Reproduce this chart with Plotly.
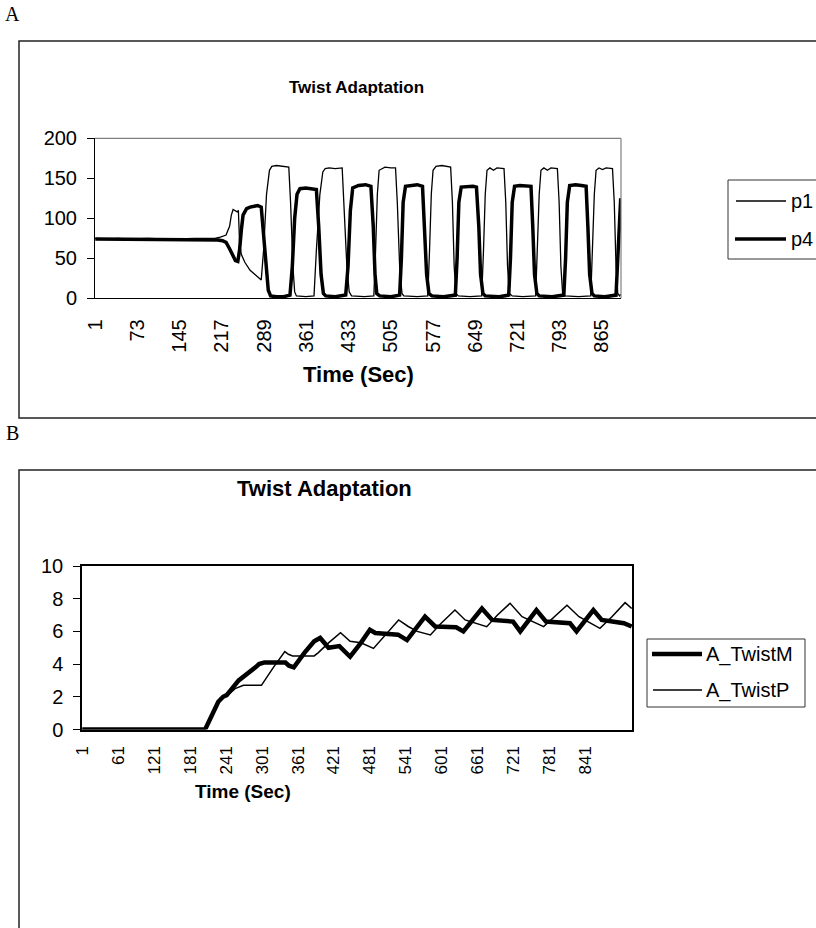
import plotly.graph_objects as go

# ---------------- Panel A data (vertices) ----------------
a_time_p1 = [1, 20, 40, 60, 90, 130, 170, 205, 212, 224, 230, 233, 236, 243, 245, 247, 250, 256, 265, 275, 284,
             288, 293, 298, 302, 310, 320, 331, 334, 338, 341, 344, 360, 374, 378, 384, 389, 393, 400, 410, 422,
             425, 430, 434, 438, 460, 476, 479, 482, 485, 490, 495, 505, 513, 516, 520, 524, 527, 550, 568,
             571, 574, 577, 582, 592, 600, 607, 610, 613, 616, 620, 640, 660, 663, 666, 669, 674, 680, 686, 698,
             701, 704, 707, 712, 730, 752, 755, 758, 761, 766, 772, 778, 789, 792, 795, 798, 802, 825, 846,
             849, 852, 855, 860, 866, 872, 883, 886, 889, 892, 895, 897]
a_p1 = [75, 74, 75, 74, 75, 74, 75, 75, 76, 79, 90, 104, 111, 108, 110, 70, 55, 45, 35, 28, 23,
        60, 130, 160, 165, 166, 165, 164, 120, 40, 8, 3, 2, 3, 60, 130, 158, 162, 163, 162, 163,
        120, 40, 8, 3, 2, 3, 60, 130, 160, 162, 164, 163, 163, 120, 40, 6, 3, 2, 3,
        60, 130, 160, 165, 166, 165, 164, 120, 40, 6, 3, 2, 3, 60, 130, 160, 163, 160, 163, 162,
        120, 40, 6, 3, 2, 3, 60, 130, 160, 163, 160, 163, 162, 120, 40, 6, 3, 2, 3,
        60, 130, 160, 163, 161, 163, 162, 120, 40, 6, 3, 5]

a_time_p4 = [1, 15, 30, 45, 60, 75, 100, 115, 140, 160, 180, 200, 210, 218, 224, 230, 236, 240, 244, 247, 250,
             253, 259, 265, 272, 278, 284, 287, 292, 296, 300, 310, 322, 333, 337, 341, 345, 350, 360, 370, 378,
             382, 386, 390, 394, 410, 428, 432, 436, 440, 450, 462, 471, 475, 478, 481, 486, 505, 520,
             523, 526, 530, 540, 550, 559, 562, 566, 570, 575, 595, 615, 618, 621, 625, 635, 645, 651,
             655, 658, 662, 666, 690, 706, 709, 712, 716, 725, 735, 744, 747, 750, 754, 758, 780, 800,
             803, 806, 810, 820, 830, 838, 841, 844, 848, 852, 870, 889, 892, 895, 897]
a_p4 = [74, 74, 73, 74, 73, 74, 74, 73, 74, 73, 74, 74, 73, 72, 70, 62, 54, 47, 46, 60, 85,
        104, 112, 114, 115, 116, 114, 90, 40, 10, 3, 2, 2, 4, 40, 100, 130, 137, 138, 137, 136,
        90, 30, 6, 3, 2, 4, 40, 110, 138, 141, 142, 140, 90, 30, 6, 3, 2, 4,
        50, 120, 140, 141, 142, 140, 90, 30, 6, 3, 2, 4, 50, 120, 139, 140, 140, 139,
        90, 30, 6, 3, 2, 4, 50, 120, 140, 141, 141, 140, 90, 30, 6, 3, 2, 4,
        50, 120, 141, 142, 141, 140, 90, 30, 6, 3, 2, 4, 50, 100, 125]

a_ticks = [1, 73, 145, 217, 289, 361, 433, 505, 577, 649, 721, 793, 865]
a_yticks = [0, 50, 100, 150, 200]

# ---------------- Panel B data ----------------
b_time_m = [1, 206, 228, 236, 242, 262, 290, 296, 305, 340, 346, 354, 372, 388, 398, 405, 412, 430, 448,
            466, 481, 490, 528, 543, 558, 573, 590, 625, 637, 652, 668, 685, 720, 732, 746, 759, 775,
            815, 826, 840, 854, 868, 905, 918]
b_m = [0, 0, 1.7, 2.0, 2.1, 3.0, 3.8, 4.0, 4.1, 4.1, 3.9, 3.8, 4.7, 5.4, 5.6, 5.3, 5.0, 5.1, 4.45,
       5.3, 6.1, 5.9, 5.8, 5.47, 6.2, 6.9, 6.3, 6.25, 6.0, 6.7, 7.4, 6.7, 6.6, 6.0, 6.7, 7.3, 6.6,
       6.5, 6.0, 6.7, 7.3, 6.7, 6.5, 6.3]

b_time_p = [1, 206, 228, 236, 244, 256, 270, 300, 320, 339, 345, 352, 388, 395, 412, 432, 448, 466, 487,
            508, 529, 545, 560, 582, 600, 623, 640, 676, 694, 715, 735, 771, 790, 810, 830, 865, 885,
            907, 918]
b_p = [0, 0, 1.7, 2.0, 2.1, 2.5, 2.7, 2.7, 3.8, 4.76, 4.6, 4.5, 4.5, 4.7, 5.3, 5.92, 5.4, 5.3, 4.96,
       5.8, 6.7, 6.3, 6.0, 5.78, 6.5, 7.31, 6.7, 6.29, 7.0, 7.72, 6.9, 6.29, 6.9, 7.6, 6.9, 6.19, 6.9,
       7.76, 7.4]

b_ticks = [1, 61, 121, 181, 241, 301, 361, 421, 481, 541, 601, 661, 721, 781, 841]
b_yticks = [0, 2, 4, 6, 8, 10]

# ---------------- figure ----------------
W, H = 816, 928
FONT = "Liberation Sans, Arial, sans-serif"


def px(x):
    return x / W


def py(y):
    return 1 - y / H


fig = go.Figure()
fig.add_trace(go.Scatter(x=a_time_p1, y=a_p1, mode="lines", name="p1",
                         line=dict(color="black", width=1.3), xaxis="x", yaxis="y"))
fig.add_trace(go.Scatter(x=a_time_p4, y=a_p4, mode="lines", name="p4",
                         line=dict(color="black", width=3.5), xaxis="x", yaxis="y"))
fig.add_trace(go.Scatter(x=b_time_m, y=b_m, mode="lines", name="A_TwistM",
                         line=dict(color="black", width=4.5), xaxis="x2", yaxis="y2"))
fig.add_trace(go.Scatter(x=b_time_p, y=b_p, mode="lines", name="A_TwistP",
                         line=dict(color="black", width=1.5), xaxis="x2", yaxis="y2"))

tickfont = dict(family=FONT, size=20, color="black")
tickfont_b = dict(family=FONT, size=17, color="black")

fig.update_layout(
    template="none",
    width=W, height=H, margin=dict(l=0, r=0, t=0, b=0, pad=0, autoexpand=False),
    paper_bgcolor="white", plot_bgcolor="white", showlegend=False,
    xaxis=dict(domain=[px(95), px(621)], anchor="y", range=[0.5, 897.5], automargin=False,
               tickmode="array", tickvals=a_ticks, ticktext=[str(t) for t in a_ticks],
               tickangle=-90, tickfont=tickfont, showgrid=False, zeroline=False,
               showline=True, linecolor="black", linewidth=1, ticks="", ticklabelstandoff=12),
    yaxis=dict(domain=[py(298.3), py(138.3)], anchor="x", range=[0, 200], automargin=False,
               tickmode="array", tickvals=a_yticks, tickfont=tickfont, showgrid=False,
               zeroline=False, showline=True, linecolor="black", linewidth=1,
               ticks="outside", ticklen=7, tickcolor="black", ticklabelstandoff=6),
    xaxis2=dict(domain=[px(82), px(632)], anchor="y2", range=[0.5, 918.5], automargin=False,
                tickmode="array", tickvals=b_ticks, ticktext=[str(t) for t in b_ticks],
                tickangle=-90, tickfont=tickfont_b, showgrid=False, zeroline=False,
                showline=True, linecolor="black", linewidth=1.5, mirror=True, ticks="",
                ticklabelstandoff=8),
    yaxis2=dict(domain=[py(729.5), py(566)], anchor="x2", range=[0, 10], automargin=False,
                tickmode="array", tickvals=b_yticks, tickfont=tickfont, showgrid=False,
                zeroline=False, showline=True, linecolor="black", linewidth=1.5, mirror=True,
                ticks="outside", ticklen=7, tickcolor="black", ticklabelstandoff=6),
)

shapes = []
# outer chart frames
shapes.append(dict(type="rect", xref="paper", yref="paper", x0=px(19), x1=px(840),
                   y0=py(418), y1=py(41), line=dict(color="#222", width=1.5)))
shapes.append(dict(type="rect", xref="paper", yref="paper", x0=px(19), x1=px(840),
                   y0=py(960), y1=py(470), line=dict(color="#222", width=1.5)))
# grey plot-area border (top & right) of panel A
shapes.append(dict(type="line", xref="paper", yref="paper", x0=px(95), x1=px(621),
                   y0=py(138.3), y1=py(138.3), line=dict(color="#808080", width=1.2)))
shapes.append(dict(type="line", xref="paper", yref="paper", x0=px(621), x1=px(621),
                   y0=py(138.3), y1=py(298.3), line=dict(color="#808080", width=1.2)))
# legend A
shapes.append(dict(type="rect", xref="paper", yref="paper", x0=px(728), x1=px(840),
                   y0=py(259), y1=py(180), line=dict(color="#333", width=1)))
shapes.append(dict(type="line", xref="paper", yref="paper", x0=px(736), x1=px(786),
                   y0=py(201), y1=py(201), line=dict(color="black", width=1.3)))
shapes.append(dict(type="line", xref="paper", yref="paper", x0=px(735), x1=px(786),
                   y0=py(239), y1=py(239), line=dict(color="black", width=3.5)))
# legend B
shapes.append(dict(type="rect", xref="paper", yref="paper", x0=px(647), x1=px(805),
                   y0=py(707), y1=py(639), line=dict(color="#333", width=1)))
shapes.append(dict(type="line", xref="paper", yref="paper", x0=px(652), x1=px(702),
                   y0=py(654), y1=py(654), line=dict(color="black", width=4.5)))
shapes.append(dict(type="line", xref="paper", yref="paper", x0=px(653), x1=px(702),
                   y0=py(690), y1=py(690), line=dict(color="black", width=1.5)))
fig.update_layout(shapes=shapes)

ann = []


def text(t, x, y, size, bold=False, family=FONT, xanchor="center"):
    ann.append(dict(text=("<b>%s</b>" % t) if bold else t, x=px(x), y=py(y), xref="paper",
                    yref="paper", showarrow=False, xanchor=xanchor, yanchor="middle",
                    font=dict(family=family, size=size, color="black")))


text("A", 12, 14, 20, family="Liberation Serif, Times New Roman, serif")
text("B", 12, 433, 20, family="Liberation Serif, Times New Roman, serif")
text("Twist Adaptation", 356, 87, 17, bold=True)
text("Time (Sec)", 358, 375, 22, bold=True)
text("Twist Adaptation", 324, 488, 22, bold=True)
text("Time (Sec)", 243, 791, 19, bold=True)
text("p1", 789, 201, 20, xanchor="left")
text("p4", 789, 239, 20, xanchor="left")
text("A_TwistM", 704, 654, 20, xanchor="left")
text("A_TwistP", 704, 690, 20, xanchor="left")
fig.update_layout(annotations=ann)

fig.write_html("out.html", config={"displayModeBar": False},
               post_script="document.body.style.margin='0';document.body.style.overflow='hidden';")
